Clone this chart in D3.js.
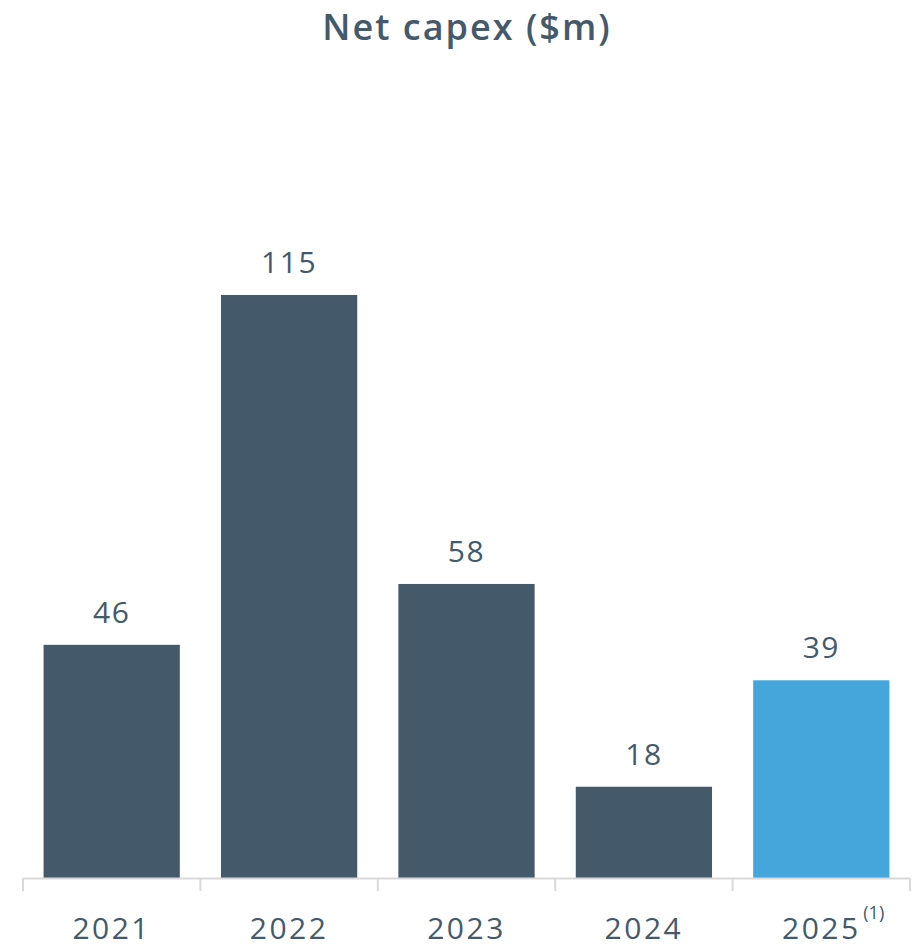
<!DOCTYPE html>
<html>
<head>
<meta charset="utf-8" />
<title>Net capex</title>
<script src="https://cdn.jsdelivr.net/npm/d3@7"></script>
<style>
  body { margin: 0; background: #fff; }
  text { font-family: "Open Sans", "DejaVu Sans", sans-serif; fill: #44596a; }
</style>
</head>
<body>
<script>
var years = ['2021', '2022', '2023', '2024', '2025'];
var values = [46, 115, 58, 18, 39];
var notes = ['', '', '', '', '(1)'];
var barColors = ['#44596a', '#44596a', '#44596a', '#44596a', '#45a6dc'];

var width = 919, height = 948;
var left = 23, right = 910, base = 878;

var svg = d3.select('body').append('svg').attr('width', width).attr('height', height);

var x = d3.scaleBand().domain(years).range([left, right]).paddingInner(0.232).paddingOuter(0.116);
var y = d3.scaleLinear().domain([0, 115]).range([base, 295]);

// title
svg.append('text').attr('x', 467).attr('y', 40).attr('text-anchor', 'middle')
  .attr('font-size', 36).attr('font-weight', 600).attr('letter-spacing', 2).text('Net capex ($m)');

// bars
svg.selectAll('rect.bar').data(values).enter().append('rect').attr('class', 'bar')
  .attr('x', function(d, i) { return x(years[i]); })
  .attr('y', function(d) { return y(d); })
  .attr('width', x.bandwidth())
  .attr('height', function(d) { return base - y(d); })
  .attr('fill', function(d, i) { return barColors[i]; });

// value labels
svg.selectAll('text.val').data(values).enter().append('text').attr('class', 'val')
  .attr('x', function(d, i) { return x(years[i]) + x.bandwidth() / 2; })
  .attr('y', function(d) { return y(d) - 22; })
  .attr('text-anchor', 'middle').attr('font-size', 30).attr('letter-spacing', 1.5)
  .text(function(d) { return d; });

// axis line + tick marks at band edges
var edges = years.map(function(d) { return x(d) - x.step() * x.paddingInner() / 2; });
edges[0] = left;
edges.push(right);
var axis = svg.append('g');
axis.append('line').attr('x1', left).attr('x2', right).attr('y1', base + 0.5).attr('y2', base + 0.5)
  .attr('stroke', '#d9d9d9').attr('stroke-width', 2);
axis.selectAll('line.tick').data(edges).enter().append('line').attr('class', 'tick')
  .attr('x1', function(d) { return d; }).attr('x2', function(d) { return d; })
  .attr('y1', base).attr('y2', base + 13)
  .attr('stroke', '#d9d9d9').attr('stroke-width', 2);

// year labels
svg.selectAll('text.year').data(years).enter().append('text').attr('class', 'year')
  .attr('x', function(d) { return x(d) + x.bandwidth() / 2; })
  .attr('y', 939).attr('text-anchor', 'middle').attr('font-size', 30).attr('letter-spacing', 2.5)
  .text(function(d) { return d; });

// footnote markers
svg.selectAll('text.note').data(years).enter().append('text').attr('class', 'note')
  .attr('x', function(d) { return x(d) + x.bandwidth() / 2 + 42; })
  .attr('y', 919).attr('font-size', 18)
  .text(function(d, i) { return notes[i]; });
</script>
</body>
</html>
